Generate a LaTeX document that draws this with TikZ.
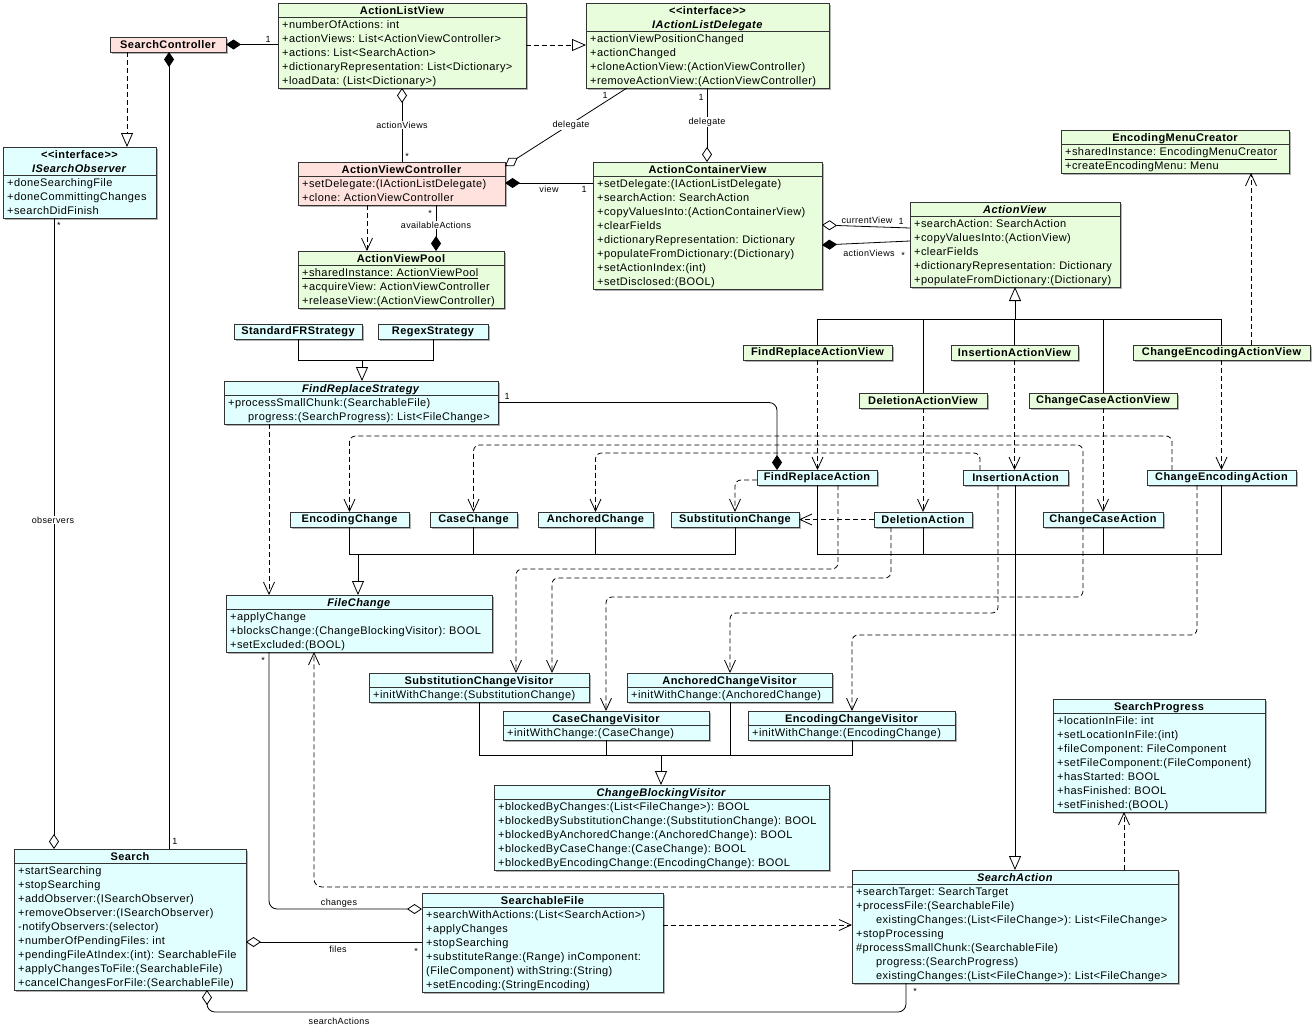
\documentclass[tikz,border=0pt]{standalone}
\usepackage{fontspec}
\setmainfont{Liberation Sans}[LetterSpace=3.8]
\usetikzlibrary{arrows.meta,calc}
\definecolor{cgreen}{RGB}{231,253,219}
\definecolor{cpink}{RGB}{255,226,222}
\definecolor{ccyan}{RGB}{226,255,255}
\newcommand\cbody{\fontsize{11}{14}\selectfont\frenchspacing}
\newcommand\ctitle{\fontsize{11}{14}\selectfont\bfseries\frenchspacing}
\newcommand\clabel{\fontsize{9}{10}\selectfont}
\tikzset{
 clsbox/.style={draw=black!80, line width=0.9pt, inner sep=0pt, outer sep=0pt},
 conn/.style={line width=0.8pt, black},
 ucomp/.style={conn, arrows={Diamond[length=15pt,width=10pt]-}},
 uagg/.style={conn, arrows={Diamond[open,length=15pt,width=10pt,fill=white]-}},
 ugen/.style={conn, arrows={-Triangle[open,length=14pt,width=12pt,fill=white]}},
 ureal/.style={ugen, dash pattern=on 5pt off 3pt},
 udep/.style={conn, dash pattern=on 5pt off 3pt, arrows={-Straight Barb[length=12pt,width=11pt]}},
 uplain/.style={conn},
 lbl/.style={font=\clabel, inner sep=1pt},
 lblw/.style={lbl, fill=white},
}
% #1 name #2 colour #3 x #4 y #5 width #6 total lines #7 header lines #8 header #9 body
\newcommand\umlclass[9]{%
  \fill[black!30] ($(#3,#4)+(1.5,1.5)$) rectangle ++(#5,{14*#6+1});
  \node[clsbox, fill=#2, minimum width=#5, minimum height={14*#6+1}, anchor=north west] (#1) at (#3,#4) {};
  \draw[clsbox] ($(#1.north west)+(0,{14*#7})$) -- ++(#5,0);
  \node[anchor=north, inner sep=0pt, align=center, font=\ctitle] (#1-t) at ($(#1.north)+(0,0.5)$) {\rule{0pt}{11pt}#8};
  \node[anchor=north west, inner sep=0pt, align=left, font=\cbody] (#1-b) at ($(#1.north west)+(4,{14*#7+0.5})$) {\rule{0pt}{10.8pt}#9};
}
% #1 name #2 colour #3 x #4 y #5 width #6 title
\newcommand\umlsimple[6]{%
  \fill[black!30] ($(#3,#4)+(1.5,1.5)$) rectangle ++(#5,15);
  \node[clsbox, fill=#2, minimum width=#5, minimum height=15, anchor=north west, font=\ctitle] (#1) at (#3,#4) {#6};
}
\begin{document}
\begin{tikzpicture}[x=1pt,y=-1pt]
\fill[white] (0,0) rectangle (1312,1028);
\path[use as bounding box] (0,0) rectangle (1312,1028);

% ---------- classes ----------
\umlsimple{sc}{cpink}{110}{37}{116}{SearchController}
\umlclass{alv}{cgreen}{278}{3}{248}{6}{1}{ActionListView}{+numberOfActions: int\\+actionViews: List<ActionViewController>\\+actions: List<SearchAction>\\+dictionaryRepresentation: List<Dictionary>\\+loadData: (List<Dictionary>)}
\umlclass{ald}{cgreen}{586}{3}{243}{6}{2}{{<}{<}interface{>}{>}\\\textit{IActionListDelegate}}{+actionViewPositionChanged\\+actionChanged\\+cloneActionView:(ActionViewController)\\+removeActionView:(ActionViewController)}
\umlclass{iso}{ccyan}{3}{147}{153}{5}{2}{{<}{<}interface{>}{>}\\\textit{ISearchObserver}}{+doneSearchingFile\\+doneCommittingChanges\\+searchDidFinish}
\umlclass{avc}{cpink}{298}{162}{207}{3}{1}{ActionViewController}{+setDelegate:(IActionListDelegate)\\+clone: ActionViewController}
\umlclass{acv}{cgreen}{593}{162}{229}{9}{1}{ActionContainerView}{+setDelegate:(IActionListDelegate)\\+searchAction: SearchAction\\+copyValuesInto:(ActionContainerView)\\+clearFields\\+dictionaryRepresentation: Dictionary\\+populateFromDictionary:(Dictionary)\\+setActionIndex:(int)\\+setDisclosed:(BOOL)}
\umlclass{emc}{cgreen}{1061}{130}{228}{3}{1}{EncodingMenuCreator}{\underline{+sharedInstance: EncodingMenuCreator}\\+createEncodingMenu: Menu}
\umlclass{av}{cgreen}{910}{202}{210}{6}{1}{\textit{ActionView}}{+searchAction: SearchAction\\+copyValuesInto:(ActionView)\\+clearFields\\+dictionaryRepresentation: Dictionary\\+populateFromDictionary:(Dictionary)}
\umlclass{avp}{cgreen}{298}{251}{206}{4}{1}{ActionViewPool}{\underline{+sharedInstance: ActionViewPool}\\+acquireView: ActionViewController\\+releaseView:(ActionViewController)}
\umlsimple{sfr}{ccyan}{234}{324}{128}{StandardFRStrategy}
\umlsimple{rgx}{ccyan}{378}{324}{110}{RegexStrategy}
\umlclass{frs}{ccyan}{224}{381}{274}{3}{1}{\textit{FindReplaceStrategy}}{+processSmallChunk:(SearchableFile)\\\hspace*{20pt}progress:(SearchProgress): List<FileChange>}
\umlsimple{frav}{cgreen}{743}{345}{149}{FindReplaceActionView}
\umlsimple{iav}{cgreen}{951}{345}{127}{InsertionActionView}
\umlsimple{ceav}{cgreen}{1133}{345}{177}{ChangeEncodingActionView}
\umlsimple{dav}{cgreen}{859}{393}{128}{DeletionActionView}
\umlsimple{ccav}{cgreen}{1029}{393}{148}{ChangeCaseActionView}
\umlsimple{fra}{ccyan}{757}{470}{120}{FindReplaceAction}
\umlsimple{ia}{ccyan}{963}{470}{105}{InsertionAction}
\umlsimple{cea}{ccyan}{1147}{470}{149}{ChangeEncodingAction}
\umlsimple{ec}{ccyan}{290}{512}{119}{EncodingChange}
\umlsimple{cc}{ccyan}{430}{512}{87}{CaseChange}
\umlsimple{ac}{ccyan}{538}{512}{115}{AnchoredChange}
\umlsimple{stc}{ccyan}{671}{512}{128}{SubstitutionChange}
\umlsimple{da}{ccyan}{874}{512}{98}{DeletionAction}
\umlsimple{cca}{ccyan}{1043}{512}{120}{ChangeCaseAction}
\umlclass{fc}{ccyan}{226}{595}{266}{4}{1}{\textit{FileChange}}{+applyChange\\+blocksChange:(ChangeBlockingVisitor): BOOL\\+setExcluded:(BOOL)}
\umlclass{scv}{ccyan}{369}{673}{220}{2}{1}{SubstitutionChangeVisitor}{+initWithChange:(SubstitutionChange)}
\umlclass{acvis}{ccyan}{627}{673}{205}{2}{1}{AnchoredChangeVisitor}{+initWithChange:(AnchoredChange)}
\umlclass{ccv}{ccyan}{503}{711}{206}{2}{1}{CaseChangeVisitor}{+initWithChange:(CaseChange)}
\umlclass{ecv}{ccyan}{748}{711}{207}{2}{1}{EncodingChangeVisitor}{+initWithChange:(EncodingChange)}
\umlclass{cbv}{ccyan}{494}{785}{335}{6}{1}{\textit{ChangeBlockingVisitor}}{+blockedByChanges:(List<FileChange>): BOOL\\+blockedBySubstitutionChange:(SubstitutionChange): BOOL\\+blockedByAnchoredChange:(AnchoredChange): BOOL\\+blockedByCaseChange:(CaseChange): BOOL\\+blockedByEncodingChange:(EncodingChange): BOOL}
\umlclass{sp}{ccyan}{1053}{699}{212}{8}{1}{SearchProgress}{+locationInFile: int\\+setLocationInFile:(int)\\+fileComponent: FileComponent\\+setFileComponent:(FileComponent)\\+hasStarted: BOOL\\+hasFinished: BOOL\\+setFinished:(BOOL)}
\umlclass{srch}{ccyan}{14}{849}{232}{10}{1}{Search}{+startSearching\\+stopSearching\\+addObserver:(ISearchObserver)\\+removeObserver:(ISearchObserver)\\-notifyObservers:(selector)\\+numberOfPendingFiles: int\\+pendingFileAtIndex:(int): SearchableFile\\+applyChangesToFile:(SearchableFile)\\+cancelChangesForFile:(SearchableFile)}
\umlclass{sf}{ccyan}{422}{893}{241}{7}{1}{SearchableFile}{+searchWithActions:(List<SearchAction>)\\+applyChanges\\+stopSearching\\+substituteRange:(Range) inComponent:\\(FileComponent) withString:(String)\\+setEncoding:(StringEncoding)}
\umlclass{sa}{ccyan}{852}{870}{326}{8}{1}{\textit{SearchAction}}{+searchTarget: SearchTarget\\+processFile:(SearchableFile)\\\hspace*{20pt}existingChanges:(List<FileChange>): List<FileChange>\\+stopProcessing\\\#processSmallChunk:(SearchableFile)\\\hspace*{20pt}progress:(SearchProgress)\\\hspace*{20pt}existingChanges:(List<FileChange>): List<FileChange>}

% ---------- junction points ----------
\coordinate (avbar) at (1015,319);
\coordinate (sabar) at (1015,554);
\coordinate (frsbar) at (362,360);
\coordinate (fcbar) at (358,554);
\coordinate (sabot) at (906,1012);
\coordinate (cbvbar) at (661,755);

% ---------- connectors ----------
\draw[ucomp] (sc.east) -- (sc.east -| alv.west);
\draw[ureal] (127,0 |- sc.south) -- (127,0 |- iso.north);
\draw[ucomp] (169,0 |- sc.south) -- (169,0 |- srch.north);
\draw[uagg] (54,0 |- srch.north) -- (54,0 |- iso.south);
\draw[ureal] (alv.east |- 0,45) -- (ald.west |- 0,45);
\draw[uagg] (402,0 |- alv.south) -- (402,0 |- avc.north);
\draw[uagg] (avc.east |- 0,166) -- (627,0 |- ald.south);
\draw[uagg] (707,0 |- acv.north) -- (707,0 |- ald.south);
\draw[ucomp] (avc.east |- 0,183) -- (acv.west |- 0,183);
\draw[udep] (367,0 |- avc.south) -- (367,0 |- avp.north);
\draw[ucomp] (436,0 |- avp.north) -- (436,0 |- avc.south);
\draw[uagg] (acv.east |- 0,225) -- (av.west |- 0,228);
\draw[ucomp] (acv.east |- 0,245) -- (av.west |- 0,241);

% ActionView hierarchy
\draw[uplain] (frav.north) -- (frav.north |- avbar) -- (ceav.north |- avbar) -- (ceav.north);
\draw[uplain] (dav.north) -- (dav.north |- avbar);
\draw[uplain] (iav.north) -- (iav.north |- avbar);
\draw[uplain] (ccav.north) -- (ccav.north |- avbar);
\draw[ugen] (avbar) -- (avbar |- av.south);

% views to actions
\draw[udep] (frav.south) -- (frav.south |- fra.north);
\draw[udep] (dav.south) -- (dav.south |- da.north);
\draw[udep] (iav.south) -- (iav.south |- ia.north);
\draw[udep] (ccav.south) -- (ccav.south |- cca.north);
\draw[udep] (ceav.south) -- (ceav.south |- cea.north);
\draw[udep] (1251,0 |- ceav.north) -- (1251,0 |- emc.south);

% SearchAction hierarchy
\draw[uplain] (fra.south) -- (fra.south |- sabar) -- (cea.south |- sabar) -- (cea.south);
\draw[uplain] (da.south) -- (da.south |- sabar);
\draw[uplain] (ia.south) -- (ia.south |- sabar);
\draw[uplain] (cca.south) -- (cca.south |- sabar);
\draw[ugen] (sabar) -- (sabar |- sa.north);

% strategy
\draw[ucomp, rounded corners=8pt] (777,0 |- fra.north) |- (frs.east);
\draw[uplain] (sfr.south) -- (sfr.south |- frsbar) -- (rgx.south |- frsbar) -- (rgx.south);
\draw[ugen] (frsbar) -- (frsbar |- frs.north);
\draw[udep] (269,0 |- frs.south) -- (269,0 |- fc.north);

% FileChange hierarchy
\draw[uplain] (ec.south) -- (ec.south |- fcbar) -- (stc.south |- fcbar) -- (stc.south);
\draw[uplain] (cc.south) -- (cc.south |- fcbar);
\draw[uplain] (ac.south) -- (ac.south |- fcbar);
\draw[ugen] (fcbar) -- (fcbar |- fc.north);

% visitor hierarchy
\draw[uplain] (479,0 |- scv.south) -- (479,0 |- cbvbar) -- (852,0 |- cbvbar) -- (852,0 |- ecv.south);
\draw[uplain] (606,0 |- ccv.south) -- (606,0 |- cbvbar);
\draw[uplain] (730,0 |- acvis.south) -- (730,0 |- cbvbar);
\draw[ugen] (cbvbar) -- (cbvbar |- cbv.north);

% actions to changes
\draw[udep, rounded corners=6pt] (1172,0 |- cea.north) -- (1172,436) -| (ec.north);
\draw[udep, rounded corners=6pt] (1083,0 |- cca.north) -- (1083,445) -| (cc.north);
\draw[udep, rounded corners=6pt] (980,0 |- ia.north) -- (980,453) -| (ac.north);
\draw[udep, rounded corners=6pt] (fra.west |- 0,480) -| (stc.north);
\draw[udep] (da.west) -- (stc.east);

% actions to visitors
\draw[udep, rounded corners=6pt] (838,0 |- fra.south) -- (838,569) -| (516,0 |- scv.north);
\draw[udep, rounded corners=6pt] (891,0 |- da.south) -- (891,578) -| (552,0 |- scv.north);
\draw[udep, rounded corners=6pt] (998,0 |- ia.south) -- (998,613) -| (730,0 |- acvis.north);
\draw[udep, rounded corners=6pt] (1083,0 |- cca.south) -- (1083,597) -| (606,0 |- ccv.north);
\draw[udep, rounded corners=6pt] (1197,0 |- cea.south) -- (1197,635) -| (852,0 |- ecv.north);

% bottom part
\draw[uagg, rounded corners=8pt] (sf.west |- 0,909) -| (269,0 |- fc.south);
\draw[udep, rounded corners=8pt] (sa.west |- 0,887) -| (314,0 |- fc.south);
\draw[uagg] (srch.east |- 0,942) -- (sf.west |- 0,942);
\draw[uagg, rounded corners=8pt] (207,0 |- srch.south) |- (sabot) -- (sabot |- sa.south);
\draw[udep] (sf.east |- 0,925) -- (sa.west |- 0,925);
\draw[udep] (1124,0 |- sa.north) -- (1124,0 |- sp.south);

% ---------- labels ----------
\node[lbl] (l01) at (268,39) {1};
\node[lbl] (l02) at (175,841) {1};
\node[lbl] (l03) at (59,225) {*};
\node[lblw] (l04) at (53,520) {observers};
\node[lblw] (l05) at (402,125) {actionViews};
\node[lbl] (l06) at (407,156) {*};
\node[lbl] (l07) at (605,95) {1};
\node[lblw] (l08) at (571,125) {delegate};
\node[lbl] (l09) at (701,97) {1};
\node[lblw] (l10) at (707,122) {delegate};
\node[lbl] (l11) at (549,189) {view};
\node[lbl] (l12) at (584,189) {1};
\node[lbl] (l13) at (430,213) {*};
\node[lblw] (l14) at (436,225) {availableActions};
\node[lbl] (l15) at (867,220) {currentView};
\node[lbl] (l16) at (901,221) {1};
\node[lbl] (l17) at (869,253) {actionViews};
\node[lbl] (l18) at (903,255) {*};
\node[lbl] (l19) at (507,396) {1};
\node[lbl] (l20) at (263,660) {*};
\node[lbl] (l21) at (339,903) {changes};
\node[lbl] (l22) at (338,949) {files};
\node[lbl] (l23) at (416,951) {*};
\node[lbl] (l24) at (339,1021) {searchActions};
\node[lbl] (l25) at (915,991) {*};
\end{tikzpicture}
\end{document}
